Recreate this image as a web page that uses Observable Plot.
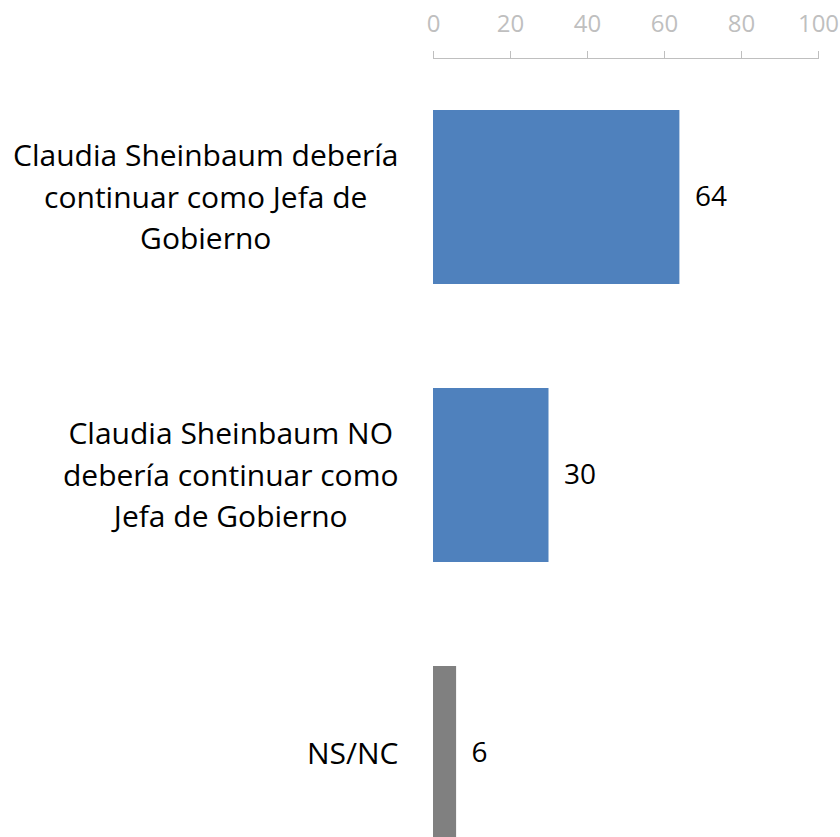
<!DOCTYPE html>
<html>
<head>
<meta charset="utf-8">
<script src="https://cdn.jsdelivr.net/npm/d3@7"></script>
<script src="https://cdn.jsdelivr.net/npm/@observablehq/plot@0.6"></script>
<style>
  html, body { margin: 0; padding: 0; background: #fff; }
  #chart svg { display: block; }
</style>
</head>
<body>
<div id="chart"></div>
<script>
const categories = [
  "Claudia Sheinbaum debería continuar como Jefa de Gobierno",
  "Claudia Sheinbaum NO debería continuar como Jefa de Gobierno",
  "NS/NC"
];
const labelLines = [
  "Claudia Sheinbaum debería\ncontinuar como Jefa de\nGobierno",
  "Claudia Sheinbaum NO\ndebería continuar como\nJefa de Gobierno",
  "NS/NC"
];
const values = [64, 30, 6];
const colors = ["#4f81bd", "#4f81bd", "#808080"];
const xTicks = [0, 20, 40, 60, 80, 100];

const data = categories.map((c, i) => ({cat: c, label: labelLines[i], value: values[i], color: colors[i]}));

const FONT = "'Open Sans', 'Noto Sans', sans-serif";

const plot = Plot.plot({
  width: 840,
  height: 837,
  marginTop: 58,
  marginLeft: 433,
  marginRight: 22,
  marginBottom: 0,
  style: {fontFamily: FONT, background: "#fff", overflow: "hidden"},
  x: {domain: [0, 100], ticks: xTicks},
  y: {domain: categories, range: [58, 892], paddingInner: 0.374, paddingOuter: 0.187, axis: null},
  marks: [
    Plot.barX(data, {y: "cat", x: "value", fill: "color"}),
    Plot.text(data, {y: "cat", x: "value", text: d => String(d.value), textAnchor: "start", dx: 15, fontSize: 28, fill: "#000"}),
    Plot.text(data, {y: "cat", frameAnchor: "left", text: "label", textAnchor: "end", dx: -35, dy: -3, fontSize: 30, lineHeight: 1.38, fill: "#000", className: "catlabel"}),
    Plot.axisX({anchor: "top", ticks: xTicks, tickSize: 8, tickPadding: 19, fontSize: 24, stroke: "#bfbfbf", color: "#bfbfbf", label: null}),
    Plot.frame({anchor: "top", stroke: "#bfbfbf"})
  ]
});

document.getElementById("chart").appendChild(plot);

// Center lines of each category label within its block, keeping the block's right edge.
plot.querySelectorAll(".catlabel text").forEach(t => {
  const w = t.getBBox().width;
  t.setAttribute("text-anchor", "middle");
  const spans = t.querySelectorAll("tspan");
  if (spans.length) {
    spans.forEach(s => s.setAttribute("x", -w / 2));
  } else {
    const tr = t.getAttribute("transform") || "";
    t.setAttribute("transform", tr + ` translate(${-w / 2},0)`);
  }
});
</script>
</body>
</html>
